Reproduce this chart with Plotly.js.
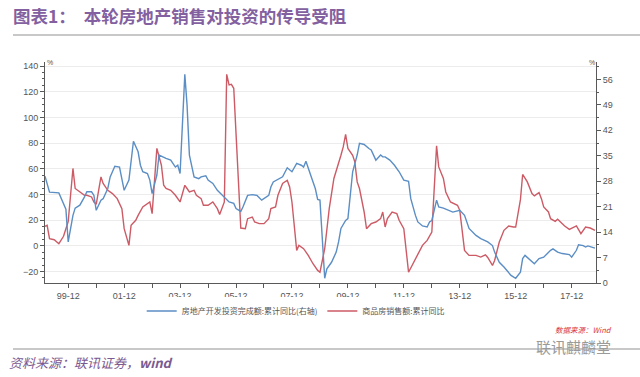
<!DOCTYPE html>
<html><head><meta charset="utf-8">
<script src="https://cdn.plot.ly/plotly-3.0.1.min.js"></script>
<style>html,body{margin:0;padding:0;background:#fff;}#chart{width:640px;height:377px;}</style>
</head><body><div id="chart"></div>
<script>
// 房地产开发投资完成额:累计同比 (右轴) — blue
const investDates = ['1999-02','1999-04','1999-08','1999-11','1999-12','2000-02','2000-03','2000-05','2000-07','2000-08','2000-10','2000-11','2000-12',
'2001-02','2001-03','2001-05','2001-06','2001-08','2001-10','2001-11','2001-12','2002-02','2002-03','2002-04','2002-06','2002-07','2002-08','2002-10','2002-11','2002-12',
'2003-02','2003-03','2003-06','2003-08','2003-10','2003-11','2003-12','2004-02','2004-03','2004-04','2004-06','2004-08','2004-09','2004-11','2004-12',
'2005-02','2005-04','2005-07','2005-09','2005-11','2005-12','2006-02','2006-03','2006-05','2006-07','2006-09','2006-11','2007-02','2007-03','2007-04','2007-07','2007-08','2007-10','2007-12',
'2008-02','2008-04','2008-05','2008-06','2008-08','2008-10','2008-11','2008-12','2009-02','2009-03','2009-05','2009-07','2009-08','2009-09','2009-11','2009-12',
'2010-02','2010-04','2010-05','2010-07','2010-09','2010-10','2010-12','2011-02','2011-03','2011-04','2011-06','2011-08','2011-10','2011-12',
'2012-02','2012-03','2012-05','2012-06','2012-08','2012-10','2012-11','2012-12','2013-02','2013-03','2013-05','2013-07','2013-09','2013-12',
'2014-02','2014-04','2014-07','2014-09','2014-12','2015-02','2015-03','2015-05','2015-07','2015-10','2015-12',
'2016-02','2016-03','2016-04','2016-07','2016-08','2016-10','2016-12','2017-03','2017-04','2017-06','2017-08','2017-11','2017-12',
'2018-02','2018-03','2018-05','2018-06','2018-07','2018-09','2018-10'];
const investYoY = [29.4,25.0,24.8,20.3,11.3,18.6,20.6,21.4,23.7,25.1,25.1,24.1,20.0,
22.8,23.2,26.0,29.2,32.1,31.9,28.7,25.5,28.3,33.3,39.0,36.1,32.4,30.6,30.1,28.3,24.6,
29.7,35.2,34.3,33.8,31.9,32.4,30.1,57.4,49.0,35.2,29.2,28.7,29.2,29.5,28.3,
27.4,25.5,23.7,22.3,21.9,20.5,19.7,20.9,24.1,24.3,24.1,22.8,24.1,26.4,27.8,28.7,29.2,31.7,30.6,
32.9,32.4,31.9,33.5,29.7,26.0,23.0,22.8,1.3,3.9,5.7,8.5,11.3,15.0,17.2,17.7,
30.6,35.2,38.4,38.1,37.0,36.6,33.8,35.2,34.7,34.7,33.8,32.4,30.6,28.3,
28.0,23.2,18.6,16.8,15.7,15.4,16.8,17.2,22.8,20.9,20.6,20.0,19.5,20.0,
18.6,15.0,13.1,12.2,11.3,10.3,8.5,5.7,4.4,2.1,1.3,
3.0,6.7,7.6,5.7,5.3,6.7,7.1,9.0,9.4,8.5,8.1,7.8,7.1,
9.0,10.5,10.3,9.9,10.2,9.9,9.6];

// 商品房销售额:累计同比 (左轴) — red
const salesDates = ['1999-02','1999-03','1999-04','1999-06','1999-08','1999-10','1999-12','2000-02','2000-03','2000-05','2000-07','2000-08','2000-10','2000-11','2000-12',
'2001-02','2001-03','2001-05','2001-07','2001-09','2001-11','2001-12','2002-02','2002-03','2002-05','2002-06','2002-08','2002-11','2002-12',
'2003-02','2003-04','2003-05','2003-06','2003-08','2003-10','2003-12','2004-02','2004-03','2004-04','2004-06','2004-07','2004-09','2004-10','2004-12',
'2005-02','2005-04','2005-05','2005-07','2005-08','2005-09','2005-10','2005-11','2005-12','2006-02','2006-04','2006-05','2006-07','2006-08','2006-10','2006-12',
'2007-02','2007-03','2007-05','2007-06','2007-08','2007-10','2007-11','2007-12','2008-02','2008-03','2008-05','2008-07','2008-09','2008-11','2008-12',
'2009-02','2009-04','2009-06','2009-09','2009-10','2009-11','2009-12','2010-02','2010-03','2010-04','2010-05','2010-07','2010-08','2010-10','2010-12',
'2011-02','2011-03','2011-04','2011-05','2011-07','2011-09','2011-10','2011-12','2012-02','2012-04','2012-06','2012-08','2012-10','2012-12',
'2013-02','2013-03','2013-05','2013-06','2013-08','2013-11','2013-12','2014-02','2014-04','2014-07','2014-09','2014-11','2014-12',
'2015-02','2015-03','2015-05','2015-07','2015-09','2015-11','2015-12','2016-02','2016-03','2016-05','2016-07','2016-08','2016-10','2016-11','2016-12',
'2017-02','2017-03','2017-05','2017-06','2017-08','2017-09','2017-11','2017-12','2018-02','2018-04','2018-05','2018-06','2018-08','2018-10'];
const salesYoY = [15.2,16.0,5.6,4.8,1.7,7.5,19.0,60.3,44.7,42.0,39.4,39.4,38.1,34.2,32.4,
53.7,48.6,43.3,40.7,36.8,29.0,13.4,0.4,16.0,19.9,23.8,30.3,34.2,25.1,
75.9,62.8,47.2,44.7,43.3,39.4,34.2,47.2,44.7,42.0,43.3,39.4,36.8,31.6,31.6,
34.2,29.0,24.4,34.2,133.6,125.3,125.8,122.7,83.7,13.9,13.4,21.2,22.5,18.6,17.3,17.3,
21.2,29.0,30.3,39.4,48.6,51.1,45.9,34.2,-3.5,0.4,-2.2,-7.4,-13.9,-19.1,-20.5,
-2.2,29.0,52.5,70.6,77.1,86.8,75.9,70.6,65.4,49.8,44.7,26.4,13.4,17.3,18.6,
21.2,26.4,14.7,21.2,26.4,25.1,19.9,13.4,-20.5,-13.9,-6.1,0.4,4.3,10.8,
77.9,61.5,52.5,42.0,34.2,31.6,27.7,-3.5,-7.4,-7.4,-8.7,-6.9,-9.0,
-15.2,-11.3,3.0,12.1,15.5,14.7,14.7,36.0,55.6,49.8,40.7,38.9,41.5,36.8,30.3,
26.4,21.2,19.1,20.7,17.3,15.5,12.9,13.9,15.5,9.5,12.1,14.7,13.9,12.1];

const xTickVals = ['1999-12','2001-12','2003-12','2005-12','2007-12','2009-12','2011-12','2013-12','2015-12','2017-12'];
const xTickText = ['99-12','01-12','03-12','05-12','07-12','09-12','11-12','13-12','15-12','17-12'];
const leftTicks = [-20,0,20,40,60,80,100,120,140];
const rightTicks = [0,7,14,21,28,35,42,49,56];

const seriesNames = ['房地产开发投资完成额:累计同比(右轴)','商品房销售额:累计同比'];
const axisCol = '#595959';
const tickFont = {family:'Liberation Sans, Arial, sans-serif', size:9, color:'#555'};

const traces = [
  {x: investDates, y: investYoY, name: seriesNames[0], type:'scatter', mode:'lines', yaxis:'y2',
   line:{color:'#5b8ec4', width:1.4}},
  {x: salesDates, y: salesYoY, name: seriesNames[1], type:'scatter', mode:'lines', yaxis:'y',
   line:{color:'#cc5b66', width:1.4}}
];

const layout = {
  width:640, height:377,
  margin:{l:45, r:44, t:62, b:94},
  paper_bgcolor:'#fff', plot_bgcolor:'#fff',
  showlegend:true,
  legend:{orientation:'h', x:0.455, xanchor:'center', y:-0.127, yanchor:'middle',
          font:{family:'Noto Sans CJK SC, sans-serif', size:8, color:'#555'}, itemwidth:30, tracegroupgap:0},
  title:{text:'图表1：  本轮房地产销售对投资的传导受阻', x:13/640, xref:'container', xanchor:'left',
         y:1-17/377, yref:'container', yanchor:'middle',
         font:{family:'Noto Sans CJK SC, sans-serif', size:17.5, color:'#8360a0', weight:'bold'}},
  xaxis:{type:'date', range:['1999-02-01','2018-10-15'], showline:true, linecolor:axisCol, linewidth:1,
         tickmode:'array', tickvals:xTickVals, ticktext:xTickText, ticks:'outside', ticklen:4, tickcolor:axisCol,
         tickfont:tickFont, showgrid:false, zeroline:false,
         minor:{ticks:'outside', ticklen:4, tickcolor:axisCol, dtick:'M12', tick0:'1999-12-01', showgrid:false}},
  yaxis:{range:[-28.9,143.2], tickmode:'array', tickvals:leftTicks, ticks:'outside', ticklen:4, tickcolor:axisCol,
         showline:true, linecolor:axisCol, linewidth:1, tickfont:tickFont, showgrid:true, gridcolor:'#ececec', gridwidth:1,
         zeroline:false, minor:{ticks:'outside', ticklen:2, tickcolor:axisCol, dtick:5, showgrid:false}},
  yaxis2:{range:[0,60.8], overlaying:'y', side:'right', tickmode:'array', tickvals:rightTicks, ticks:'outside', ticklen:4,
          tickcolor:axisCol, showline:true, linecolor:axisCol, linewidth:1, tickfont:tickFont, showgrid:false, zeroline:false,
          minor:{ticks:'outside', ticklen:2, tickcolor:axisCol, dtick:3.5, showgrid:false}},
  shapes:[
    {type:'line', xref:'paper', yref:'paper', x0:(13-45)/551, x1:(640-45)/551, y0:(283-35)/221, y1:(283-35)/221,
     line:{color:'#c8c8c8', width:2}},
    {type:'line', xref:'paper', yref:'paper', x0:(13-45)/551, x1:(640-45)/551, y0:(283-349)/221, y1:(283-349)/221,
     line:{color:'#c8c8c8', width:2}}
  ],
  annotations:[
    {text:'%', xref:'paper', yref:'paper', x:(50-45)/551, y:(283-62)/221, xanchor:'center', yanchor:'middle', showarrow:false,
     font:{family:'Liberation Sans, sans-serif', size:7, color:'#555'}},
    {text:'%', xref:'paper', yref:'paper', x:(592-45)/551, y:(283-62)/221, xanchor:'center', yanchor:'middle', showarrow:false,
     font:{family:'Liberation Sans, sans-serif', size:7, color:'#555'}},
    {text:'<i>资料来源：联讯证券，</i><b><i>wind</i></b>', xref:'paper', yref:'paper', x:(7-45)/551, y:(283-362)/221,
     xanchor:'left', yanchor:'middle', showarrow:false, font:{family:'Noto Sans CJK SC, sans-serif', size:13, color:'#7a5a90'}},
    {text:'<i>数据来源：Wind</i>', xref:'paper', yref:'paper', x:(614-45)/551, y:(283-329)/221,
     xanchor:'right', yanchor:'middle', showarrow:false, font:{family:'Noto Sans CJK SC, sans-serif', size:7.5, color:'#d9363e'}},
    {text:'联讯麒麟堂', xref:'paper', yref:'paper', x:(613-45)/551, y:(283-346)/221,
     xanchor:'right', yanchor:'middle', showarrow:false, font:{family:'Noto Sans CJK SC, sans-serif', size:15, color:'#9a9a9a'}}
  ]
};

Plotly.newPlot('chart', traces, layout, {displayModeBar:false, staticPlot:true});
</script></body></html>
